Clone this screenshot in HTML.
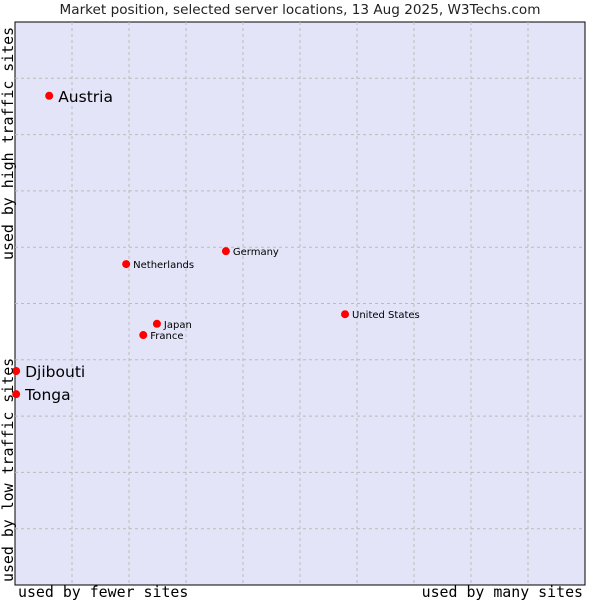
<!DOCTYPE html>
<html><head><meta charset="utf-8"><style>
body{margin:0;background:#fff;width:600px;height:600px;overflow:hidden}
svg text{font-family:"DejaVu Sans","Liberation Sans",sans-serif}
.mono{font-family:"DejaVu Sans Mono","Liberation Mono",monospace !important}
</style></head><body>
<svg id="c" width="600" height="600">
<text x="300" y="14" text-anchor="middle" font-size="13.6" fill="#222">Market position, selected server locations, 13 Aug 2025, W3Techs.com</text>
<rect x="15" y="22" width="570" height="563" fill="#e3e4f8" stroke="#000" stroke-width="1"/>
<g id="grid"></g>
<g id="pts"></g>
<text class="mono" x="18" y="597" font-size="14.9" fill="#000">used by fewer sites</text>
<text class="mono" x="583" y="597" text-anchor="end" font-size="14.9" fill="#000">used by many sites</text>
<text class="mono" transform="translate(13,582) rotate(-90)" font-size="14.9" fill="#000">used by low traffic sites</text>
<text class="mono" transform="translate(13,260) rotate(-90)" font-size="14.9" fill="#000">used by high traffic sites</text>
</svg>
<script>
const names=["Austria","Netherlands","Germany","United States","Japan","France","Djibouti","Tonga"];
const xs=[0.6,1.95,3.7,5.79,2.49,2.25,0.02,0.02];
const ys=[8.69,5.7,5.93,4.81,4.64,4.44,3.8,3.39];
const big=[1,0,0,0,0,0,1,1];
const L=15,R=585,T=22,B=585;
const sx=v=>L+v*(R-L)/10, sy=v=>B-v*(B-T)/10;
const ns="http://www.w3.org/2000/svg";
const g=document.getElementById('grid');
for(let i=1;i<10;i++){
 const a=document.createElementNS(ns,'line');
 a.setAttribute('x1',sx(i));a.setAttribute('x2',sx(i));a.setAttribute('y1',T);a.setAttribute('y2',B);
 a.setAttribute('stroke','#bbb');a.setAttribute('stroke-dasharray','3,3');
 
 
 g.appendChild(a);
 const b=document.createElementNS(ns,'line');
 b.setAttribute('y1',sy(i));b.setAttribute('y2',sy(i));b.setAttribute('x1',L);b.setAttribute('x2',R);
 b.setAttribute('stroke','#bbb');b.setAttribute('stroke-dasharray','3,3');
 
 
 g.appendChild(b);
}
const p=document.getElementById('pts');
names.forEach((n,i)=>{
 const x=sx(xs[i]),y=sy(ys[i]);
 const c=document.createElementNS(ns,'circle');
 c.setAttribute('cx',x);c.setAttribute('cy',y);c.setAttribute('r',4);c.setAttribute('fill','#f00');
 
 
 p.appendChild(c);
 const t=document.createElementNS(ns,'text');
 t.setAttribute('x',x+(big[i]?9:7));t.setAttribute('y',y+(big[i]?6:4));
 t.setAttribute('font-size',big[i]?15.5:10);t.setAttribute('fill','#000');
 t.textContent=n;
 
 
 p.appendChild(t);
});
</script>
</body></html>
